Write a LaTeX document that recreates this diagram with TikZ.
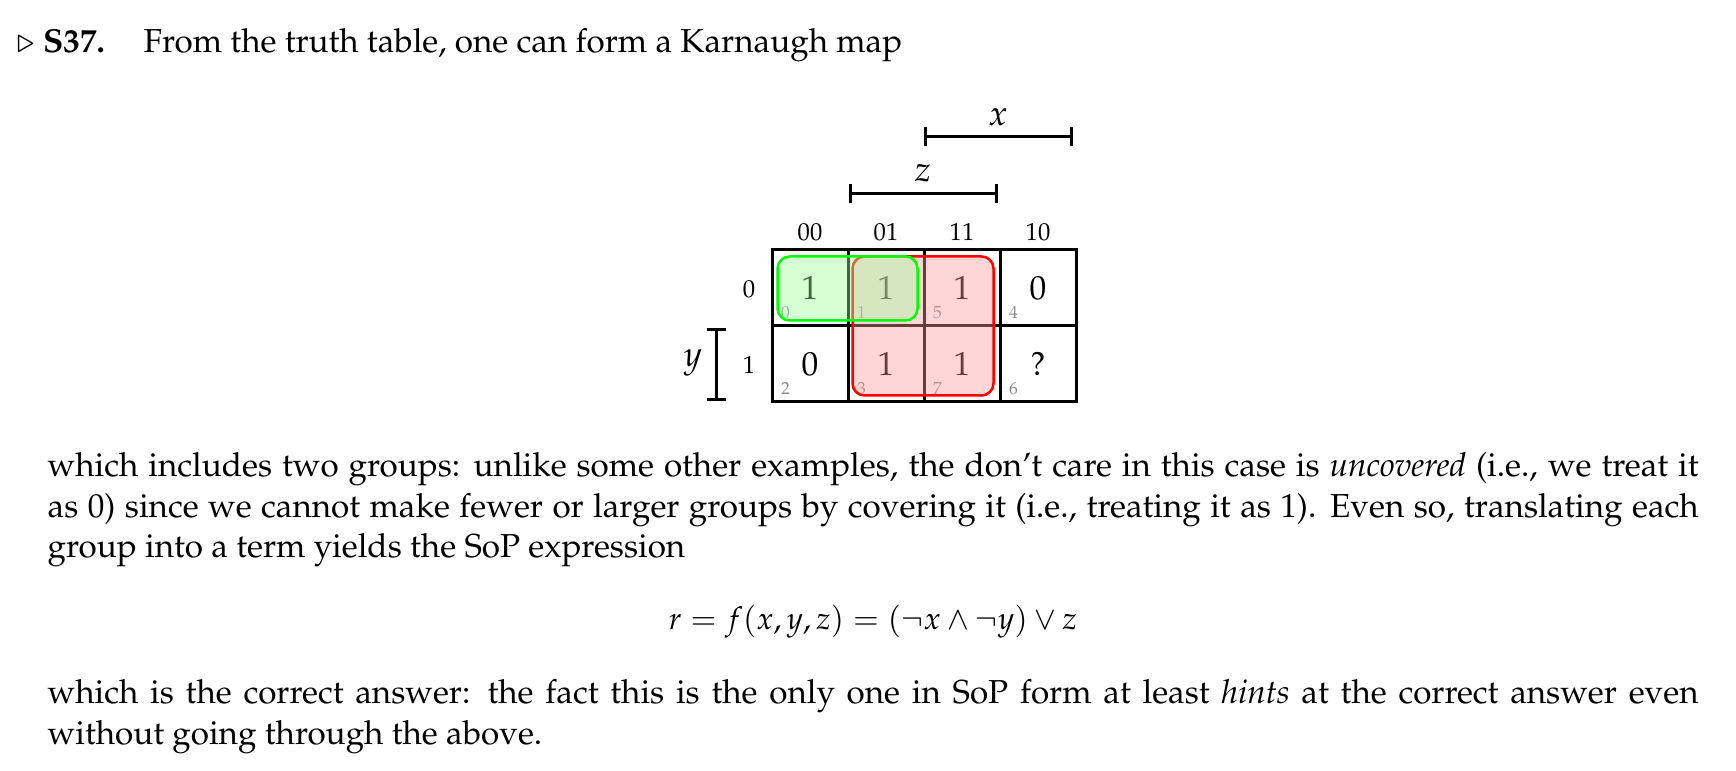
\documentclass[tikz,border=0pt]{standalone}
\usepackage[T1]{fontenc}
\usepackage{mathpazo}
\usetikzlibrary{positioning,arrows.meta}

\tikzset{
  txt/.style={inner sep=0pt, font=\fontsize{9.45}{11.4}\selectfont},
  para/.style={txt, text width=165.1mm, align=justify, anchor=base west},
  varlbl/.style={inner sep=0pt, font=\fontsize{10}{12}\selectfont},
  cellbox/.style={draw, line width=0.3mm, minimum size=7.6mm, inner sep=0pt,
    font=\fontsize{9.5}{11}\selectfont},
  hdr/.style={inner sep=0pt, font=\fontsize{7}{8}\selectfont},
  idx/.style={inner sep=0pt, font=\fontsize{5}{6}\selectfont, text=black!45},
  varbar/.style={line width=0.3mm, {Bar[width=1.9mm]}-{Bar[width=1.9mm]}},
  grpred/.style={draw=red, line width=0.25mm, fill=red!40, fill opacity=0.4, rounded corners=1.2mm},
  grpgreen/.style={draw=green, line width=0.25mm, fill=green!40, fill opacity=0.4, rounded corners=1.2mm}
}

\begin{document}
\begin{tikzpicture}[x=0.1mm, y=-0.1mm]
\useasboundingbox (0,0) rectangle (1736,771);

% heading
\node[txt, anchor=base west] (tag) at (16,53) {$\triangleright$ \textbf{S37.}};
\node[txt, anchor=base west] (head) at (143,53) {From the truth table, one can form a Karnaugh map};

% the map
\foreach \i/\cx/\cy/\v in {0/810/288/1, 1/886/288/1, 5/962/288/1, 4/1038/288/0,
                            2/810/364/0, 3/886/364/1, 7/962/364/1, 6/1038/364/?}{
  \node[cellbox] (c\i) at (\cx,\cy) {\v};
  \node[idx] (n\i) at ([shift={(15,-15)}]c\i.south west) {\i};
}
\foreach \h/\cx in {00/810, 01/886, 11/962, 10/1038}
  \node[hdr] (h\h) at (\cx,232) {\h};
\node[hdr] (r0) at (749,289) {0};
\node[hdr] (r1) at (749,365) {1};

% groups
\draw[grpred] ([shift={(6,8)}]c1.north west) rectangle ([shift={(-8,-8)}]c7.south east);
\draw[grpgreen] ([shift={(7,8)}]c0.north west) rectangle ([shift={(-8,-7)}]c1.south east);

% variable brackets
\coordinate (xl) at (924,137);
\coordinate (xr) at (1073,137);
\coordinate (zl) at (849,194);
\coordinate (zr) at (998,194);
\coordinate (yt) at (716,328);
\coordinate (yb) at (716,401);
\draw[varbar] (xl) -- (xr);
\draw[varbar] (zl) -- (zr);
\draw[varbar] (yt) -- (yb);
\node[varlbl] (lx) at (998,117) {$x$};
\node[varlbl] (lz) at (923,173) {$z$};
\node[varlbl] (ly) at (693,363) {$y$};

% text below
\node[para] (p1) at (47,477) {which includes two groups: unlike some other examples, the don't care in this case is \emph{uncovered} (i.e., we treat it as 0) since we cannot make fewer or larger groups by covering it (i.e., treating it as 1). Even so, translating each group into a term yields the SoP expression};
\node[txt, anchor=base, font=\fontsize{8.9}{11.4}\selectfont] (eq) at (873,630)
  {$r = f(x,y,z) = (\neg x \wedge \neg y) \vee z$};
\node[para] (p2) at (47,704) {which is the correct answer: the fact this is the only one in SoP form at least \emph{hints} at the correct answer even without going through the above.};
\end{tikzpicture}
\end{document}
